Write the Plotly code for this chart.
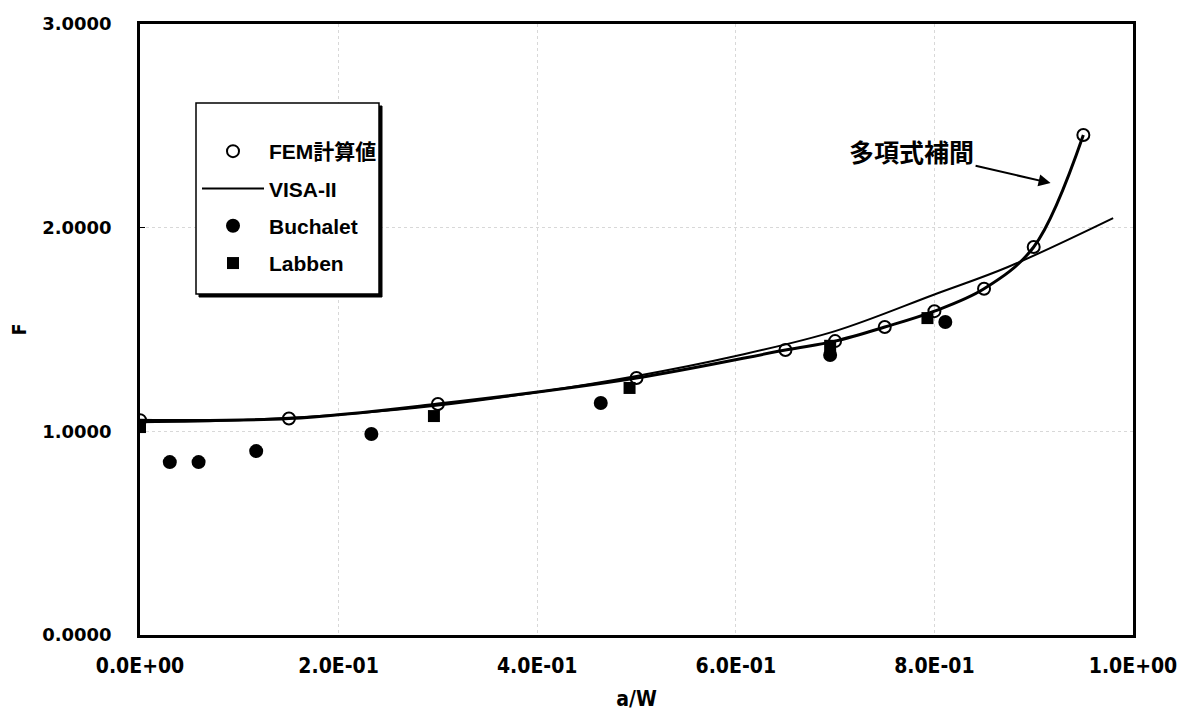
import plotly.graph_objects as go

# ---------------- data ----------------
fem_x = [0.0, 0.15, 0.30, 0.50, 0.65, 0.70, 0.75, 0.80, 0.85, 0.90, 0.95]
fem_y = [1.055, 1.063, 1.134, 1.262, 1.399, 1.443, 1.512, 1.590, 1.700, 1.905, 2.455]

visa_x = [0.0, 0.1, 0.2, 0.3, 0.4, 0.5, 0.6, 0.7, 0.8, 0.874, 0.98]
visa_y = [1.045, 1.055, 1.082, 1.127, 1.192, 1.272, 1.370, 1.492, 1.672, 1.807, 2.047]

buch_x = [0.030, 0.059, 0.117, 0.233, 0.464, 0.695, 0.811]
buch_y = [0.849, 0.849, 0.903, 0.987, 1.139, 1.375, 1.537]

labb_x = [0.0, 0.296, 0.493, 0.695, 0.793]
labb_y = [1.021, 1.075, 1.213, 1.420, 1.556]

x_tickvals = [0.0, 0.2, 0.4, 0.6, 0.8, 1.0]
x_ticktext = ["0.0E+00", "2.0E-01", "4.0E-01", "6.0E-01", "8.0E-01", "1.0E+00"]
y_tickvals = [0.0, 1.0, 2.0, 3.0]

name_fem = "FEM計算値"
name_visa = "VISA-II"
name_buch = "Buchalet"
name_labb = "Labben"
note_text = "多項式補間"

# ---------------- figure ----------------
LEG_FONT = "Liberation Sans, Arial, Noto Sans CJK JP, sans-serif"
NARROW = "DejaVu Sans Condensed, Liberation Sans Narrow, sans-serif"

fig = go.Figure()

fig.add_trace(go.Scatter(
    x=visa_x, y=visa_y, mode="lines", name=name_visa,
    line=dict(color="black", width=2, shape="spline", smoothing=1.0),
    legendgroup="b", legendrank=2))

fig.add_trace(go.Scatter(
    x=fem_x, y=fem_y, mode="lines", showlegend=False,
    line=dict(color="black", width=3, shape="spline", smoothing=1.0),
    hoverinfo="skip"))

fig.add_trace(go.Scatter(
    x=fem_x, y=fem_y, mode="markers", name=name_fem,
    marker=dict(symbol="circle-open", size=12, color="black",
                line=dict(color="black", width=2)),
    legendgroup="a", legendrank=1))

fig.add_trace(go.Scatter(
    x=buch_x, y=buch_y, mode="markers", name=name_buch,
    marker=dict(symbol="circle", size=14, color="black"),
    legendgroup="c", legendrank=3))

fig.add_trace(go.Scatter(
    x=labb_x, y=labb_y, mode="markers", name=name_labb,
    marker=dict(symbol="square", size=12, color="black"),
    legendgroup="d", legendrank=4))

# legend frame with shadow (paper coords, relative to the plot area)
lx0, lx1 = (195 - 139) / 993, (378 - 139) / 993
ly0, ly1 = (634 - 293) / 611, (634 - 102) / 611
sx, sy = 3 / 993, 3 / 611
fig.add_shape(type="rect", xref="paper", yref="paper",
              x0=lx0 + sx, x1=lx1 + sx, y0=ly0 - sy, y1=ly1 - sy,
              fillcolor="black", line=dict(color="black", width=1), layer="above")
fig.add_shape(type="rect", xref="paper", yref="paper",
              x0=lx0, x1=lx1, y0=ly0, y1=ly1,
              fillcolor="white", line=dict(color="black", width=1.5), layer="above")

fig.add_annotation(
    x=0.917, y=2.219, xref="x", yref="y",
    ax=-139, ay=-32, axref="pixel", ayref="pixel",
    text=note_text, showarrow=True,
    arrowhead=2, arrowsize=1.2, arrowwidth=2, arrowcolor="black",
    font=dict(family="Noto Sans CJK JP", size=25, color="black", weight="bold"))

fig.update_layout(
    width=1175, height=703,
    margin=dict(l=132, r=50, t=16, b=76),
    paper_bgcolor="white", plot_bgcolor="white",
    showlegend=True,
    legend=dict(
        x=lx0 + 1 / 993, y=(634 - 130) / 611, xanchor="left", yanchor="top",
        bgcolor="rgba(0,0,0,0)", borderwidth=0,
        font=dict(family=LEG_FONT, size=21, color="black", weight="bold"),
        tracegroupgap=7, itemwidth=62,
    ),
    xaxis=dict(
        range=[0, 1.0], tickvals=x_tickvals, ticktext=x_ticktext,
        automargin=False, ticklabeloverflow="allow",
        showline=True, linecolor="black", linewidth=2.5, mirror=True,
        showgrid=True, gridcolor="#d8d8d8", griddash="dot", gridwidth=1,
        zeroline=False, ticks="", ticklabelstandoff=10,
        tickfont=dict(family=NARROW, size=21, color="black", weight="bold"),
        title=dict(text="a/W", standoff=20,
                   font=dict(family=NARROW, size=21, color="black", weight="bold")),
    ),
    yaxis=dict(
        range=[0, 3.0], tickvals=y_tickvals, tickformat=".4f",
        automargin=False, ticklabeloverflow="allow",
        showline=True, linecolor="black", linewidth=2.5, mirror=True,
        showgrid=True, gridcolor="#d8d8d8", griddash="dot", gridwidth=1,
        zeroline=False, ticks="inside", ticklen=5, tickcolor="black",
        ticklabelstandoff=22,
        tickfont=dict(family="DejaVu Sans", size=18, color="black", weight="bold"),
        title=dict(text="F", standoff=19,
                   font=dict(family=NARROW, size=19, color="black", weight="bold")),
    ),
)

fig.write_html("out.html")
